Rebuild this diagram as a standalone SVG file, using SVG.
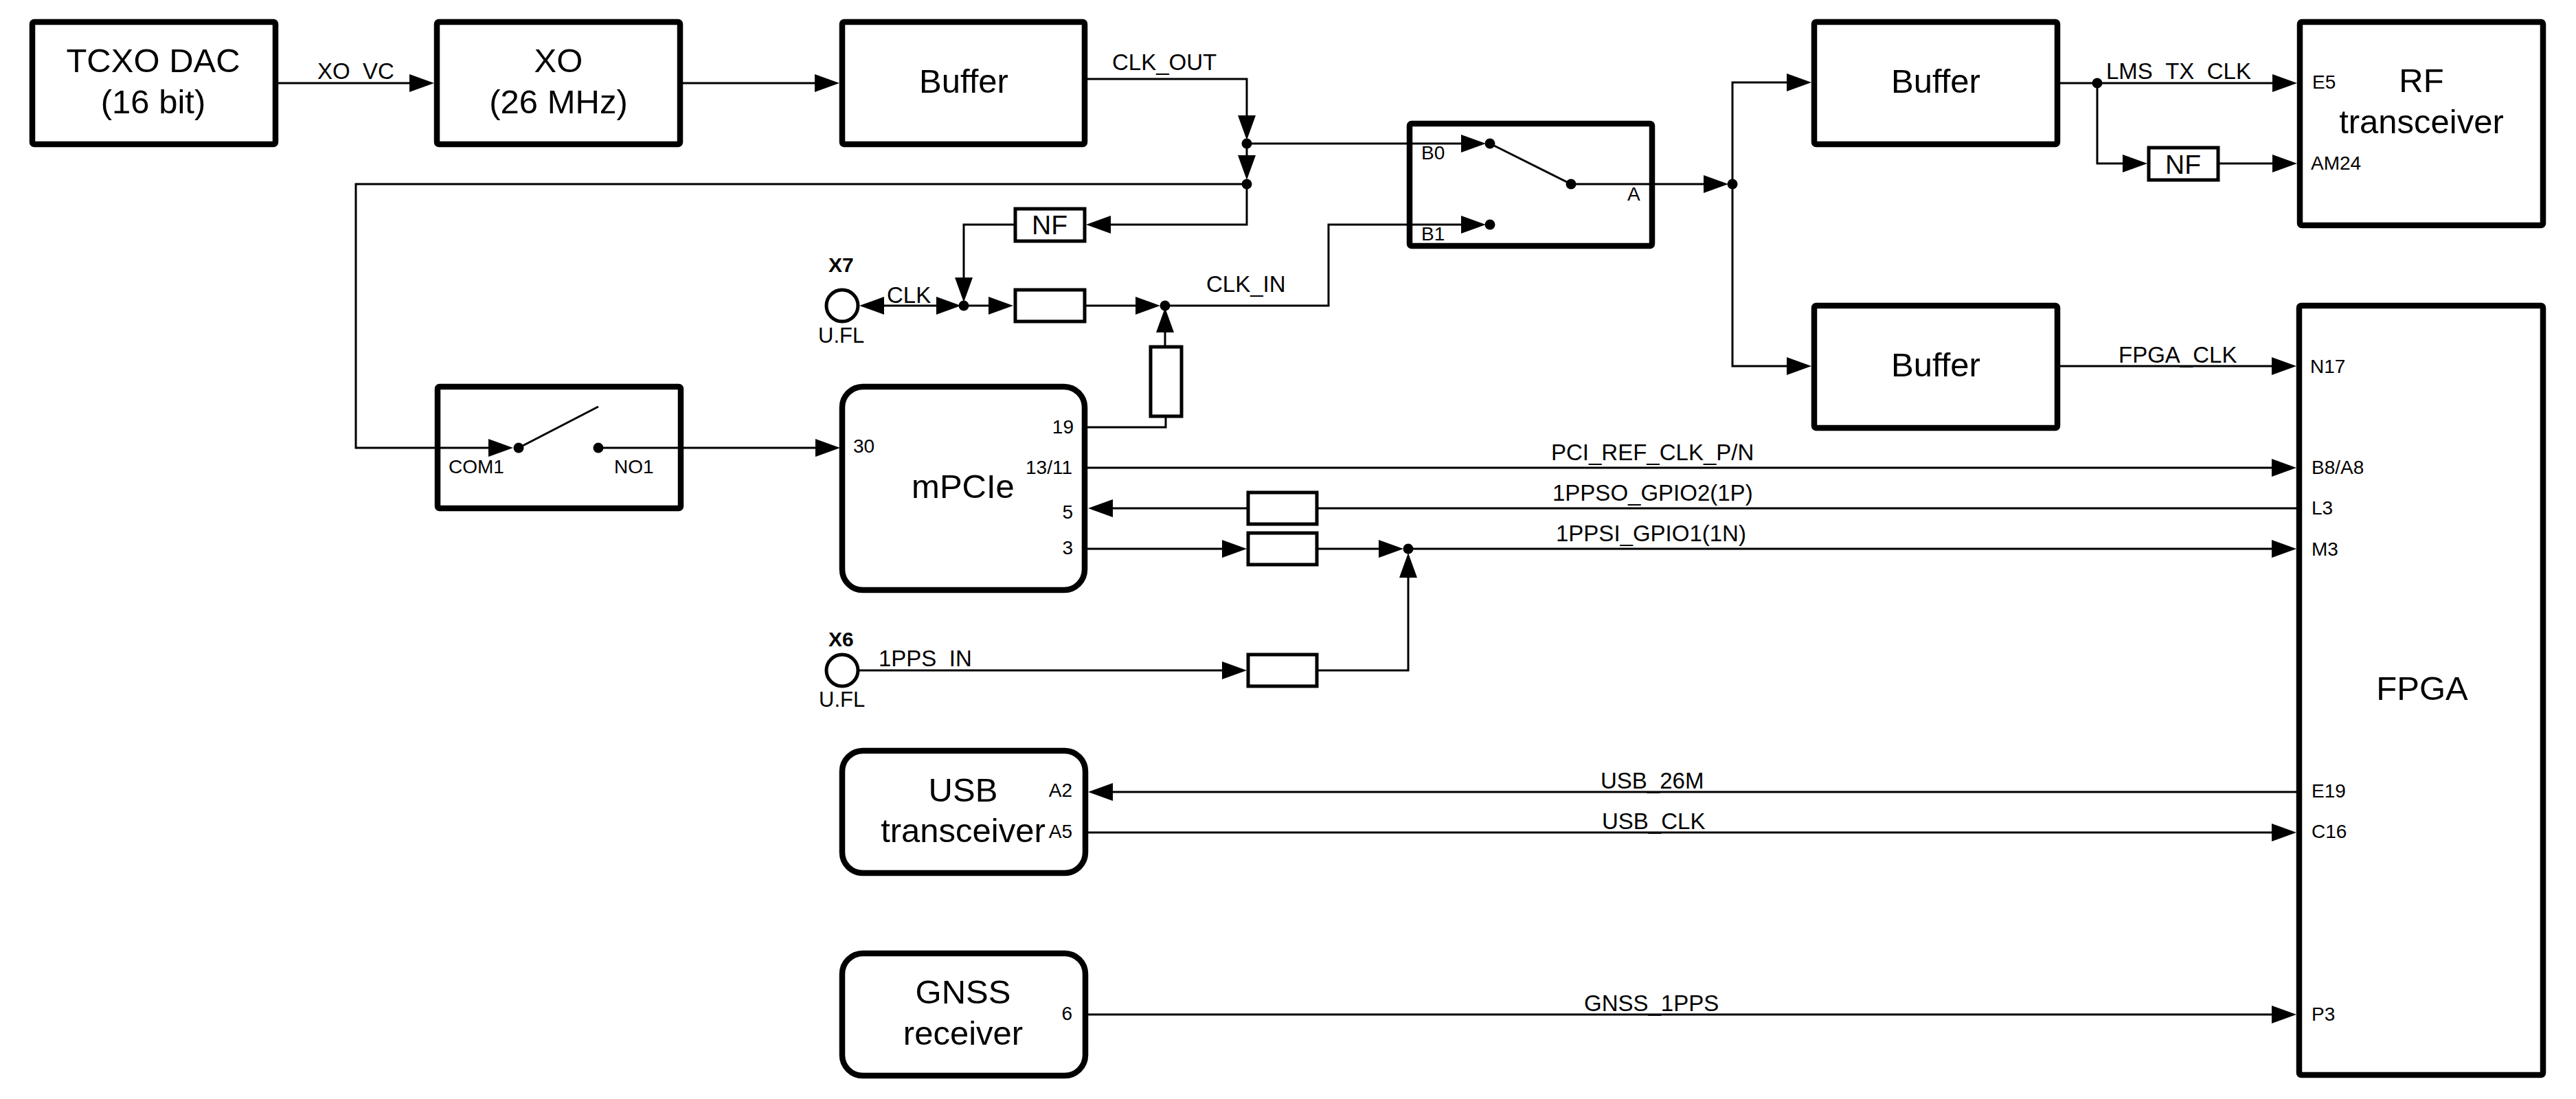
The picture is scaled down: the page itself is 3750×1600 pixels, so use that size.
<svg xmlns="http://www.w3.org/2000/svg" width="3750" height="1600" viewBox="0 0 3750 1600">
<style>
text{font-family:"Liberation Sans",Arial,sans-serif;fill:#000}
.box{fill:#fff;stroke:#000;stroke-width:8.5}
.res{fill:#fff;stroke:#000;stroke-width:5}
.w{fill:none;stroke:#000;stroke-width:3}
.wa{fill:none;stroke:#000;stroke-width:3;marker-end:url(#arr)}
.wb{fill:none;stroke:#000;stroke-width:3;marker-start:url(#arr);marker-end:url(#arr)}
.t{font-size:49px;text-anchor:middle}
.nf{font-size:39px;text-anchor:middle}
.s{font-size:33px}
.p{font-size:28px}
.pr{font-size:28px;text-anchor:end}
.b{font-size:30px;font-weight:bold}
.u{font-size:31px}
</style>
<defs>
<marker id="arr" markerUnits="userSpaceOnUse" markerWidth="40" markerHeight="30" viewBox="0 0 40 30" refX="26" refY="15" orient="auto-start-reverse"><path d="M0 2 L36 15 L0 28 Z" fill="#000"/></marker>
</defs>
<rect width="3750" height="1600" fill="#fff"/>

<g id="connectors">
<path class="wa" d="M405 121H622"/>
<path class="wa" d="M994 121H1212"/>
<path class="wa" d="M1583 115H1815V194"/>
<path class="wa" d="M1815 209V252"/>
<path class="wa" d="M1815 268V327H1591"/>
<path class="wa" d="M1815 268H518V652H737"/>
<path class="wa" d="M871 652H1213"/>
<path class="wa" d="M1476 327H1403V430"/>
<path class="wb" d="M1261 445H1389"/>
<path class="wa" d="M1403 445H1465"/>
<path class="wa" d="M1581 445H1679"/>
<path class="w" d="M1583 622H1697V606"/>
<path class="wa" d="M1696 503V458"/>
<path class="wa" d="M2287 268H2506"/>
<path class="wb" d="M2627 120H2522V533H2627"/>
<path class="wa" d="M2999 121H3334"/>
<path class="wa" d="M3053 121V238H3116"/>
<path class="wa" d="M3231 238H3334"/>
<path class="wa" d="M2999 533H3333"/>
<path class="wa" d="M1583 681H3333"/>
<path class="w" d="M3343 740H1919"/>
<path class="wa" d="M1815 740H1594"/>
<path class="wa" d="M1583 799H1805"/>
<path class="wa" d="M1919 799H2033"/>
<path class="wa" d="M2050 799H3333"/>
<path class="wa" d="M1250 976H1805"/>
<path class="wa" d="M1919 976H2050V815"/>
<path class="wa" d="M3343 1153H1594"/>
<path class="wa" d="M1584 1212H3333"/>
<path class="wa" d="M1584 1477H3333"/>
<circle cx="1815" cy="209" r="7.5"/>
<circle cx="1815" cy="268" r="7.5"/>
<circle cx="1403" cy="445" r="7.5"/>
<circle cx="1696" cy="445" r="7.5"/>
<circle cx="2522" cy="268" r="7.5"/>
<circle cx="3053" cy="121" r="7.5"/>
<circle cx="2050" cy="799" r="7.5"/>
<g id="connector-labels" class="s">
<text x="462" y="115">XO_VC</text>
<text x="1619" y="102">CLK_OUT</text>
<text x="1291" y="441">CLK</text>
<text x="1756" y="425">CLK_IN</text>
<text x="3066" y="115">LMS_TX_CLK</text>
<text x="3084" y="528">FPGA_CLK</text>
<text x="2258" y="670">PCI_REF_CLK_P/N</text>
<text x="2260" y="729">1PPSO_GPIO2(1P)</text>
<text x="2265" y="788">1PPSI_GPIO1(1N)</text>
<text x="1279" y="970">1PPS_IN</text>
<text x="2330" y="1148">USB_26M</text>
<text x="2332" y="1207">USB_CLK</text>
<text x="2306" y="1472">GNSS_1PPS</text>
</g>
</g>

<g id="tcxo-dac">
<rect class="box" x="47" y="32" width="354" height="178" rx="3"/>
<text class="t" x="223" y="105">TCXO DAC</text>
<text class="t" x="223" y="165">(16 bit)</text>
</g>
<g id="xo">
<rect class="box" x="636" y="32" width="354" height="178" rx="3"/>
<text class="t" x="813" y="105">XO</text>
<text class="t" x="813" y="165">(26 MHz)</text>
</g>
<g id="buffer-1">
<rect class="box" x="1226" y="32" width="353" height="178" rx="3"/>
<text class="t" x="1403" y="135">Buffer</text>
</g>
<g id="switch-1" fill="none">
<rect class="box" x="2052" y="180" width="353" height="178" rx="3" style="fill:none"/>
<path class="w" d="M2169 209L2287 268"/>
<circle cx="2169" cy="209" r="7.5" fill="#000"/>
<circle cx="2169" cy="327" r="7.5" fill="#000"/>
<circle cx="2287" cy="268" r="7.5" fill="#000"/>
<path class="wa" d="M1815 209H2153"/>
<path class="wa" d="M1696 445H1934V327H2153"/>
<text class="p" x="2069" y="232">B0</text>
<text class="p" x="2069" y="350">B1</text>
<text class="p" x="2369" y="292">A</text>
</g>
<g id="buffer-2">
<rect class="box" x="2641" y="32" width="354" height="178" rx="3"/>
<text class="t" x="2818" y="135">Buffer</text>
</g>
<g id="buffer-3">
<rect class="box" x="2641" y="445" width="354" height="178" rx="3"/>
<text class="t" x="2818" y="548">Buffer</text>
</g>
<g id="rf-transceiver">
<rect class="box" x="3348" y="32" width="354" height="296" rx="3"/>
<text class="t" x="3525" y="134">RF</text>
<text class="t" x="3525" y="194">transceiver</text>
<text class="p" x="3366" y="129">E5</text>
<text class="p" x="3364" y="247">AM24</text>
</g>
<g id="fpga">
<rect class="box" x="3347" y="445" width="355" height="1120" rx="3"/>
<text class="t" x="3526" y="1019">FPGA</text>
<text class="p" x="3363" y="543">N17</text>
<text class="p" x="3365" y="690">B8/A8</text>
<text class="p" x="3365" y="749">L3</text>
<text class="p" x="3365" y="809">M3</text>
<text class="p" x="3365" y="1161">E19</text>
<text class="p" x="3365" y="1220">C16</text>
<text class="p" x="3365" y="1486">P3</text>
</g>
<g id="nf-1">
<rect class="res" x="1478" y="304" width="101" height="47"/>
<text class="nf" x="1528" y="341">NF</text>
</g>
<g id="nf-2">
<rect class="res" x="3128" y="215" width="101" height="47"/>
<text class="nf" x="3178" y="253">NF</text>
</g>
<g id="r-clk"><rect class="res" x="1478" y="422" width="101" height="46"/></g>
<g id="r-19"><rect class="res" x="1675" y="505" width="45" height="101"/></g>
<g id="r-1ppso"><rect class="res" x="1817" y="717" width="100" height="46"/></g>
<g id="r-1ppsi"><rect class="res" x="1817" y="776" width="100" height="46"/></g>
<g id="r-1pps"><rect class="res" x="1817" y="953" width="100" height="46"/></g>
<g id="x7">
<circle cx="1226" cy="445" r="23" fill="#fff" stroke="#000" stroke-width="5"/>
<text class="b" x="1206" y="396">X7</text>
<text class="u" x="1191" y="499">U.FL</text>
</g>
<g id="x6">
<circle cx="1226" cy="976" r="23" fill="#fff" stroke="#000" stroke-width="5"/>
<text class="b" x="1206" y="941">X6</text>
<text class="u" x="1192" y="1029">U.FL</text>
</g>
<g id="switch-2">
<rect class="box" x="637" y="563" width="354" height="177" rx="3" style="fill:none"/>
<path class="w" d="M755 652L871 592"/>
<circle cx="755" cy="652" r="7.5"/>
<circle cx="871" cy="652" r="7.5"/>
<text class="p" x="653" y="689">COM1</text>
<text class="p" x="894" y="689">NO1</text>
</g>
<g id="mpcie">
<rect class="box" x="1226" y="563" width="353" height="296" rx="30"/>
<text class="t" x="1402" y="725">mPCIe</text>
<text class="p" x="1242" y="659">30</text>
<text class="pr" x="1563" y="631">19</text>
<text class="pr" x="1561" y="690">13/11</text>
<text class="pr" x="1562" y="755">5</text>
<text class="pr" x="1562" y="807">3</text>
</g>
<g id="usb-transceiver">
<rect class="box" x="1226" y="1093" width="354" height="178" rx="30"/>
<text class="t" x="1402" y="1167">USB</text>
<text class="t" x="1402" y="1226">transceiver</text>
<text class="pr" x="1561" y="1160">A2</text>
<text class="pr" x="1561" y="1220">A5</text>
</g>
<g id="gnss-receiver">
<rect class="box" x="1226" y="1388" width="354" height="178" rx="30"/>
<text class="t" x="1402" y="1461">GNSS</text>
<text class="t" x="1402" y="1521">receiver</text>
<text class="pr" x="1561" y="1485">6</text>
</g>
</svg>
